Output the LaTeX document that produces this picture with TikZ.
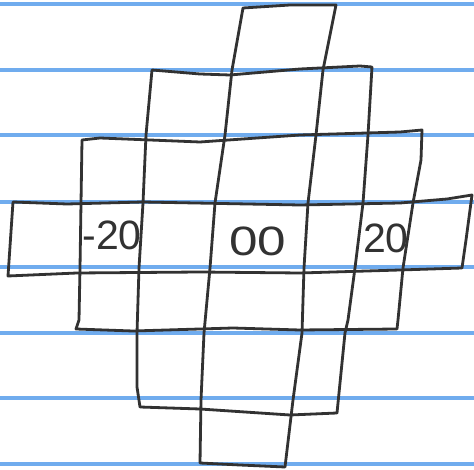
\documentclass[tikz,border=0pt]{standalone}
\usepackage{fontspec}
\setmainfont{Liberation Sans}
\definecolor{ruleblue}{RGB}{112,172,238}
\definecolor{pencil}{RGB}{50,50,50}
\tikzset{
  rule/.style={draw=ruleblue, line width=3.2pt},
  sketch/.style={draw=pencil, line width=2.8pt, line join=round, line cap=round},
  digits/.style={text=pencil, font=\fontsize{41}{41}\selectfont, inner sep=0pt}
}
\begin{document}
\begin{tikzpicture}[x=1pt,y=-1pt]
\useasboundingbox[fill=white] (0,0) rectangle (474,470);
% ruled lines of the paper
\foreach \yy in {4,70,135,202,267,333,398,464}
  \draw[rule] (0,\yy) -- (474,\yy);
% rectangle 1 (tallest)
\draw[sketch] (243,8) -- (290,5) -- (336,5) -- (323,70) -- (316,135) -- (308,203)
  -- (304,268) -- (302,333) -- (293,400) -- (285,467) -- (240,465) -- (200,463)
  -- (201,400) -- (204,333) -- (210,268) -- (215,203) -- (225,135) -- (232,70) -- cycle;
% rectangle 2
\draw[sketch] (152,70) -- (200,74) -- (230,75) -- (300,69) -- (360,66) -- (372,67)
  -- (368,135) -- (363,203) -- (355,268) -- (348,320) -- (345,333) -- (337,413)
  -- (290,415) -- (200,409) -- (140,407) -- (137,387) -- (137,333) -- (139,268)
  -- (143,203) -- (146,135) -- cycle;
% rectangle 3
\draw[sketch] (82,140) -- (100,138) -- (200,142) -- (300,135) -- (400,132) -- (422,130)
  -- (421,160) -- (413,203) -- (403,268) -- (398,320) -- (397,329)
  -- (300,330) -- (233,328) -- (133,331) -- (76,329)
  -- (79,320) -- (80,268) -- (81,203) -- cycle;
% rectangle 4 (widest)
\draw[sketch] (13,202) -- (67,204) -- (143,202) -- (300,205) -- (400,203) -- (447,199) -- (472,195)
  -- (466,240) -- (462,268) -- (400,270) -- (300,273) -- (200,272) -- (77,273) -- (8,276) -- cycle;
% labels
\node[digits] (lm) at (112,235) {-20};
\node[digits, xscale=1.25] (lz) at (258,241) {00};
\node[digits] (lp) at (386,238) {20};
\end{tikzpicture}
\end{document}
